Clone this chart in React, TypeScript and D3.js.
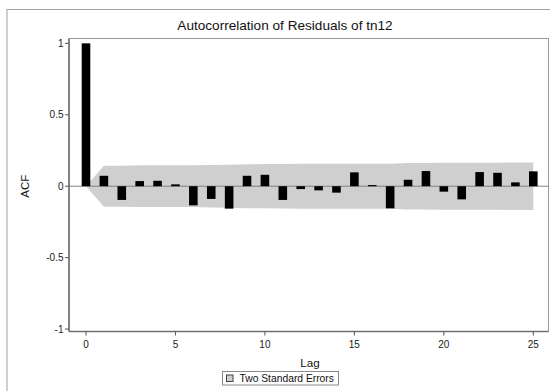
import React from 'react';
import * as d3 from 'd3';

// ACF values per lag
const lags = d3.range(0, 26);
const acf = [
    1.0, 0.073, -0.096, 0.036, 0.038, 0.013, -0.134, -0.089, -0.157, 0.073,
    0.08, -0.096, -0.02, -0.029, -0.045, 0.097, 0.008, -0.155, 0.045, 0.106,
    -0.038, -0.092, 0.099, 0.094, 0.027, 0.104,
];
// two standard error half-widths per lag
const twoSE = [
    0, 0.143, 0.144, 0.146, 0.146, 0.146, 0.146, 0.149, 0.15, 0.154,
    0.155, 0.156, 0.157, 0.157, 0.157, 0.157, 0.158, 0.158, 0.163, 0.163,
    0.164, 0.164, 0.165, 0.165, 0.166, 0.166,
];
const yTicks = [1, 0.5, 0, -0.5, -1];
const xTicks = [0, 5, 10, 15, 20, 25];

const W = 550;
const H = 391;
const plot = {left: 69, top: 38.5, right: 548.5, bottom: 331.5};
const font = '"Liberation Sans", Arial, sans-serif';

export default function App() {
    const x = d3.scaleLinear().domain([-0.95, 25.85]).range([plot.left, plot.right]);
    const y = d3.scaleLinear().domain([-1.017, 1.034]).range([plot.bottom, plot.top]);
    const barW = (x(1) - x(0)) * 0.48;

    const band = d3.area<number>()
        .x(i => x(lags[i]))
        .y0(i => y(-twoSE[i]))
        .y1(i => y(twoSE[i]));

    return (
        <svg width={W} height={H} style={{position: 'absolute', left: 0, top: 0, background: '#fff'}}
             fontFamily={font}>
            {/* outer frame */}
            <rect x={7} y={9.5} width={W} height={H} fill="none" stroke="#a0a0a0" strokeWidth={1}/>
            <text x={285} y={30} textAnchor="middle" fontSize={13.6} fill="#111">
                Autocorrelation of Residuals of tn12
            </text>

            {/* plot area */}
            <rect x={plot.left} y={plot.top} width={plot.right - plot.left} height={plot.bottom - plot.top}
                  fill="#fff" stroke="#9a9a9a" strokeWidth={1}/>

            <path d={band(lags.map((_, i) => i)) || ''} fill="#cfcfcf"/>
            <line x1={plot.left} x2={plot.right} y1={y(0)} y2={y(0)} stroke="#808080" strokeWidth={1}/>

            {acf.map((v, i) => (
                <rect key={i} x={x(lags[i]) - barW / 2} y={Math.min(y(v), y(0))}
                      width={barW} height={Math.abs(y(v) - y(0))} fill="#000"/>
            ))}

            {/* axes */}
            <line x1={plot.left} x2={plot.left} y1={plot.top} y2={plot.bottom} stroke="#707070" strokeWidth={1.6}/>
            <line x1={plot.left} x2={plot.right} y1={plot.bottom} y2={plot.bottom} stroke="#707070" strokeWidth={1.6}/>

            {yTicks.map(t => (
                <g key={t}>
                    <line x1={plot.left - 4} x2={plot.left} y1={y(t)} y2={y(t)} stroke="#555"/>
                    <text x={plot.left - 5.5} y={y(t)} dy="0.35em" textAnchor="end" fontSize={10} fill="#222">
                        {t}
                    </text>
                </g>
            ))}
            {xTicks.map(t => (
                <g key={t}>
                    <line x1={x(t)} x2={x(t)} y1={plot.bottom} y2={plot.bottom + 4} stroke="#555"/>
                    <text x={x(t)} y={plot.bottom + 16} textAnchor="middle" fontSize={10} fill="#222">
                        {t}
                    </text>
                </g>
            ))}

            <text x={310} y={366.8} textAnchor="middle" fontSize={11.6} fill="#111">Lag</text>
            <text transform={`translate(29,${y(0)}) rotate(-90)`} textAnchor="middle" fontSize={11.5} fill="#111">
                ACF
            </text>

            {/* legend */}
            <rect x={222.5} y={371.5} width={116} height={13.5} fill="#fff" stroke="#8a8a8a" strokeWidth={1}/>
            <rect x={226.5} y={375} width={6.5} height={6.5} fill="#cfcfcf" stroke="#444" strokeWidth={1}/>
            <text x={239.5} y={382} fontSize={10.3} fill="#111">Two Standard Errors</text>
        </svg>
    );
}
